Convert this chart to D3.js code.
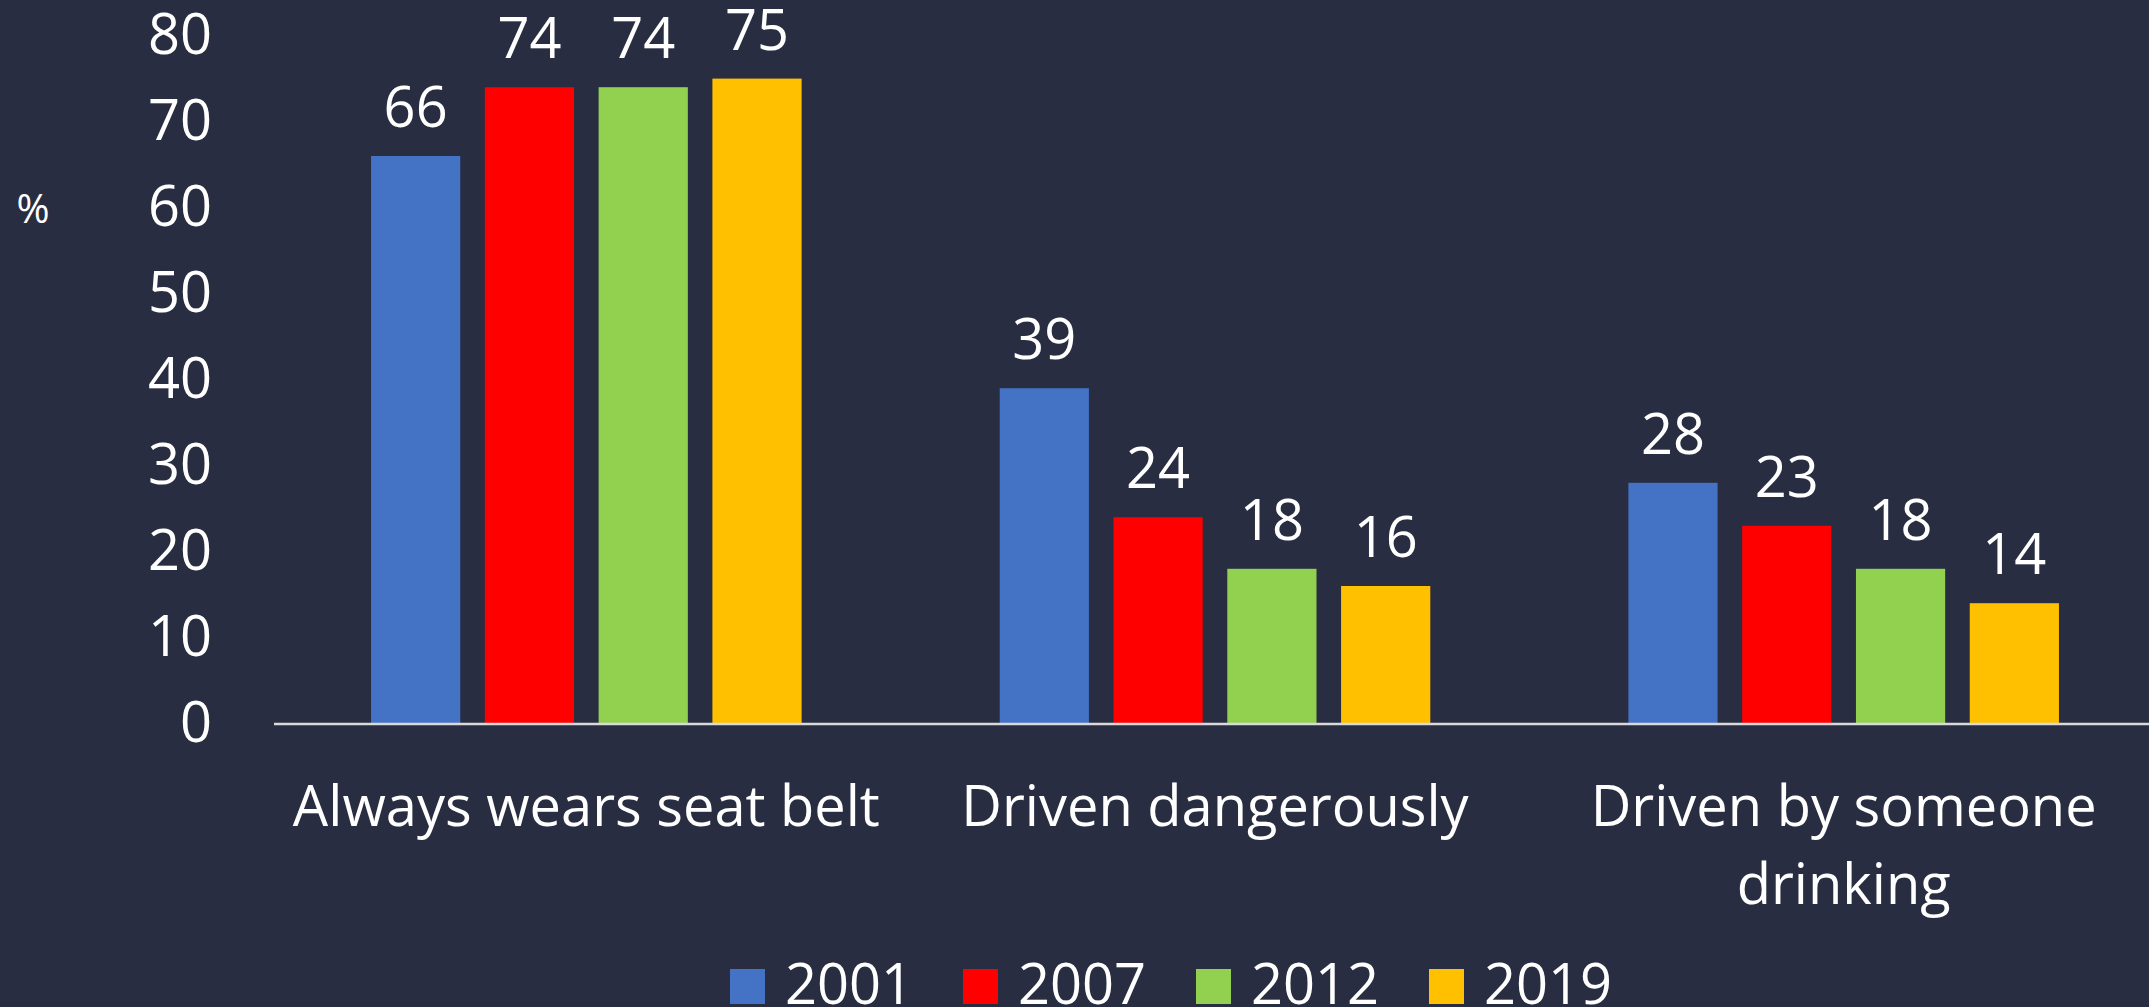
<!DOCTYPE html>
<html>
<head>
<meta charset="utf-8">
<script src="https://cdn.jsdelivr.net/npm/d3@7"></script>
<style>
  html, body { margin: 0; padding: 0; background: #282d41; overflow: hidden; }
  svg { display: block; }
  text { font-family: "Open Sans", "Noto Sans", sans-serif; fill: #ffffff; }
</style>
</head>
<body>
<svg id="chart" width="2149" height="1007"></svg>
<script>
// Survey categories and the share (%) reporting each behaviour by year
const categories = ["Always wears seat belt", "Driven dangerously", "Driven by someone drinking"];
const years = ["2001", "2007", "2012", "2019"];
const values2001 = [66, 39, 28];
const values2007 = [74, 24, 23];
const values2012 = [74, 18, 18];
const values2019 = [75, 16, 14];
const yTicks = [0, 10, 20, 30, 40, 50, 60, 70, 80];
const colors = ["#4472c4", "#ff0000", "#92d050", "#ffc000"];

const seriesValues = [values2001, values2007, values2012, values2019];
const rows = categories.map((c, i) => ({
  category: c,
  values: years.map((y, j) => ({ year: y, value: seriesValues[j][i] }))
}));

const plotLeft = 274, plotRight = 2149;
const svg = d3.select("#chart");

const fontSize = 56;

const y = d3.scaleLinear().domain([0, 80]).range([723.6, 35.6]);

const x0 = d3.scaleBand()
  .domain(categories)
  .range([272, 2158])
  .paddingInner(0.276)
  .paddingOuter(0.138);

const x1 = d3.scaleBand()
  .domain(years)
  .range([0, x0.bandwidth()])
  .paddingInner(0.216)
  .paddingOuter(0.108);

const color = d3.scaleOrdinal().domain(years).range(colors);

// Y axis labels (no axis line, no tick marks)
const yAxis = d3.axisLeft(y).tickValues(yTicks).tickSize(0).tickPadding(62);
const gy = svg.append("g").attr("transform", `translate(${plotLeft},0)`).call(yAxis);
gy.select(".domain").remove();
gy.selectAll("text")
  .style("font-size", fontSize + "px")
  .attr("fill", "#ffffff")
  .attr("font-family", "'Open Sans', sans-serif");

// Unit label
svg.append("text")
  .attr("x", 33).attr("y", 207)
  .attr("text-anchor", "middle")
  .attr("dominant-baseline", "central")
  .style("font-size", "40px")
  .text("%");

// Bars
const groups = svg.append("g").selectAll("g")
  .data(rows).join("g")
  .attr("transform", d => `translate(${x0(d.category)},0)`);

groups.selectAll("rect")
  .data(d => d.values).join("rect")
  .attr("x", d => x1(d.year))
  .attr("width", x1.bandwidth())
  .attr("y", d => y(d.value))
  .attr("height", d => y(0) - y(d.value))
  .attr("fill", d => color(d.year));

// Value labels
groups.selectAll("text.val")
  .data(d => d.values).join("text")
  .attr("class", "val")
  .attr("x", d => x1(d.year) + x1.bandwidth() / 2)
  .attr("y", d => y(d.value) - 29)
  .attr("text-anchor", "middle")
  .style("font-size", fontSize + "px")
  .text(d => d.value);

// Baseline
svg.append("line")
  .attr("x1", plotLeft).attr("x2", plotRight)
  .attr("y1", y(0) + 0.5).attr("y2", y(0) + 0.5)
  .attr("stroke", "#d9d9d9").attr("stroke-width", 2.5);

// Category labels, wrapped to the band width
const catG = svg.append("g");
categories.forEach(c => {
  const cx = x0(c) + x0.bandwidth() / 2;
  const t = catG.append("text")
    .attr("x", cx)
    .attr("y", 826)
    .attr("text-anchor", "middle")
    .style("font-size", fontSize + "px");
  const words = c.split(" ");
  const maxW = x0.step() - 20;
  let line = [];
  let tspan = t.append("tspan").attr("x", cx).attr("dy", 0);
  words.forEach(w => {
    line.push(w);
    tspan.text(line.join(" "));
    if (tspan.node().getComputedTextLength() > maxW && line.length > 1) {
      line.pop();
      tspan.text(line.join(" "));
      line = [w];
      tspan = t.append("tspan").attr("x", cx).attr("dy", 78).text(w);
    }
  });
});

// Legend
const legend = svg.append("g").selectAll("g")
  .data(years).join("g")
  .attr("transform", (d, i) => `translate(${730 + i * 233},0)`);
legend.append("rect")
  .attr("x", 0).attr("y", 969)
  .attr("width", 35).attr("height", 35)
  .attr("fill", d => color(d));
legend.append("text")
  .attr("x", 55).attr("y", 1004)
  .style("font-size", fontSize + "px")
  .text(d => d);
</script>
</body>
</html>
